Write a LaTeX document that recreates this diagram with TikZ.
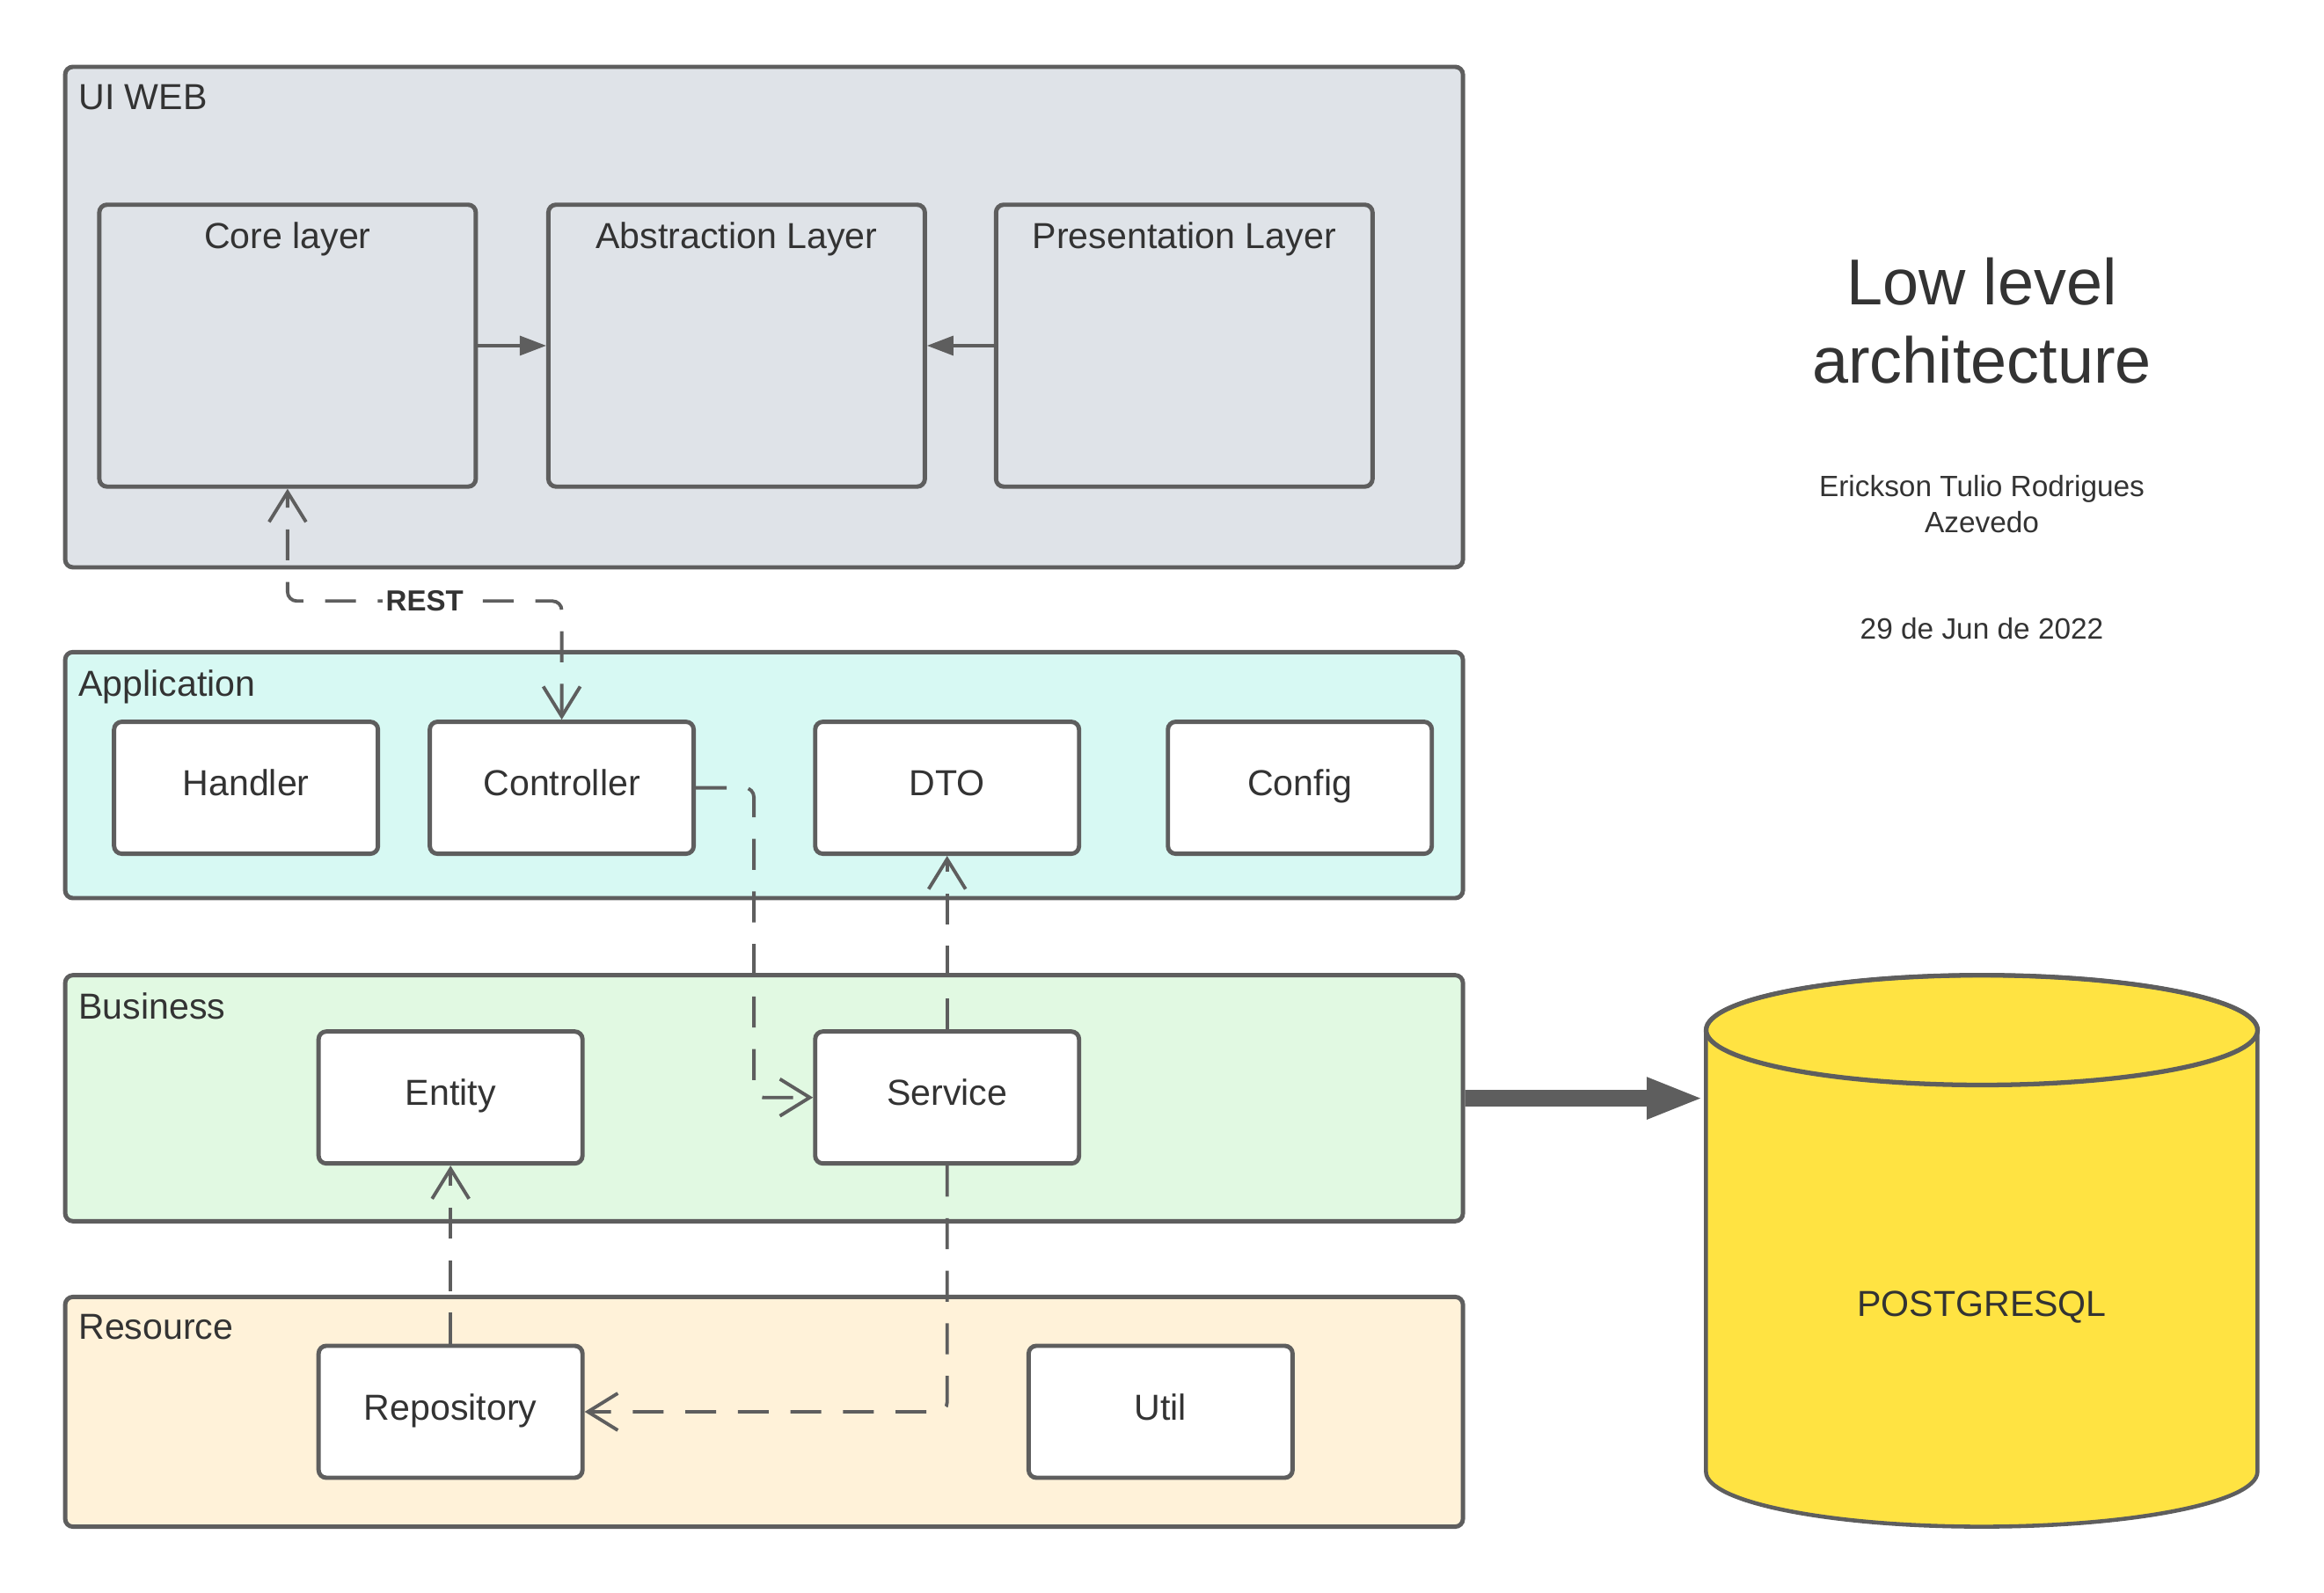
\documentclass[tikz,border=0pt]{standalone}
\usepackage{fontspec}
\setmainfont{Liberation Sans}
\usepackage{xcolor}
\usepackage{tikz}
\usetikzlibrary{arrows.meta}
\usetikzlibrary{calc}

\definecolor{edge}{HTML}{5E5E5E}
\definecolor{txt}{HTML}{333333}
\definecolor{uigray}{HTML}{DFE3E8}
\definecolor{appcyan}{HTML}{D7F9F3}
\definecolor{bizgreen}{HTML}{E1F9E2}
\definecolor{resbeige}{HTML}{FFF2D9}
\definecolor{dbyellow}{HTML}{FFE342}

\begin{document}
\begin{tikzpicture}[font=\fontsize{11.7}{14}\selectfont, text=txt,
    >={Straight Barb[length=0.34cm,width=0.42cm]},
    group/.style={draw=edge, line width=1.4pt, rounded corners=2.5pt, minimum width=15.89cm},
    grouplbl/.style={anchor=north west, inner sep=0pt, xshift=0.17cm, yshift=-0.22cm},
    layer/.style={draw=edge, fill=uigray, line width=1.4pt, rounded corners=2.5pt, minimum width=4.28cm, minimum height=3.205cm},
    layerlbl/.style={anchor=north, inner sep=0pt, yshift=-0.22cm},
    comp/.style={draw=edge, fill=white, line width=1.4pt, rounded corners=2.5pt, minimum width=3cm, minimum height=1.5cm, text height=0.73em, text depth=0.21em},
    dep/.style={draw=edge, line width=1.1pt, dash pattern=on 10pt off 7pt, rounded corners=3pt, ->},
    link/.style={draw=edge, line width=0.9pt, -{Triangle[length=0.3cm,width=0.22cm]}}]
    \useasboundingbox (0,0) rectangle (26.42,18.11);

    \draw[] (8.686,14.505) node[group, fill=uigray, minimum height=5.69cm, label={[grouplbl, name=UiLbl]north west:UI WEB}] (Ui) {};
    \draw[] (8.686,9.298) node[group, fill=appcyan, minimum height=2.797cm, label={[grouplbl, name=AppLbl]north west:Application}] (App) {};
    \draw[] (8.686,5.625) node[group, fill=bizgreen, minimum height=2.797cm, label={[grouplbl, name=BizLbl]north west:Business}] (Biz) {};
    \draw[] (8.686,2.06) node[group, fill=resbeige, minimum height=2.612cm, label={[grouplbl, name=ResLbl]north west:Resource}] (Res) {};

    \draw[] (3.269,14.18) node[layer, label={[layerlbl, name=CoreLbl]north:Core layer}] (Core) {};
    \draw[] (8.374,14.18) node[layer, label={[layerlbl, name=AbsLbl]north:Abstraction Layer}] (Abs) {};
    \draw[] (13.463,14.18) node[layer, label={[layerlbl, name=PresLbl]north:Presentation Layer}] (Pres) {};
    \draw[link] (Core) -- (Abs);
    \draw[link] (Pres) -- (Abs);

    \draw[] (2.797,9.154) node[comp] (Hdl) {Handler};
    \draw[] (6.386,9.154) node[comp] (Ctrl) {Controller};
    \draw[] (10.767,9.154) node[comp] (Dto) {DTO};
    \draw[] (14.777,9.154) node[comp] (Cfg) {Config};
    \draw[] (5.122,5.633) node[comp] (Ent) {Entity};
    \draw[] (10.767,5.633) node[comp] (Svc) {Service};
    \draw[] (5.122,2.06) node[comp] (Repo) {Repository};
    \draw[] (13.194,2.06) node[comp] (Util) {Util};

    \draw[dep, <->] (Ctrl.north) -- ++(0,1.348) -| node[pos=0.25, fill=white, inner sep=1pt, font=\bfseries\fontsize{9.4}{11}\selectfont] (Rest) {REST} (Core.south);
    \draw[dep] (Ctrl.east) -- ++(0.66,0) |- (Svc.west);
    \draw[dep] (Svc.north) -- (Dto.south);
    \draw[dep] (Repo.north) -- (Ent.south);
    \draw[dep] (Svc.south) |- (Repo.east);

    \draw[draw=edge, fill=dbyellow, line width=1.3pt] (19.394,6.399) -- (19.394,1.378) arc[start angle=180, end angle=360, x radius=3.1345cm, y radius=0.624cm] -- (25.663,6.399) arc[start angle=0, end angle=180, x radius=3.1345cm, y radius=0.624cm] -- cycle;
    \draw[draw=edge, line width=1.5pt] (22.53,6.399) ellipse [x radius=3.1345cm, y radius=0.624cm];
    \coordinate (DbIn) at (19.37,5.624);
    \draw[] (22.53,3.25) node (Pg) {POSTGRESQL};
    \draw[draw=edge, line width=0.187cm, -{Triangle[length=0.65cm,width=0.43cm]}] (Biz.east) -- (DbIn);

    \draw[] (22.53,14.46) node[align=center, font=\fontsize{21}{25.4}\selectfont] (Title) {Low level\\architecture};
    \draw[] (22.53,12.381) node[align=center, font=\fontsize{9.5}{11.5}\selectfont] (Author) {Erickson Tulio Rodrigues\\Azevedo};
    \draw[] (22.53,10.966) node[font=\fontsize{9.5}{11.5}\selectfont] (Date) {29 de Jun de 2022};
\end{tikzpicture}
\end{document}
